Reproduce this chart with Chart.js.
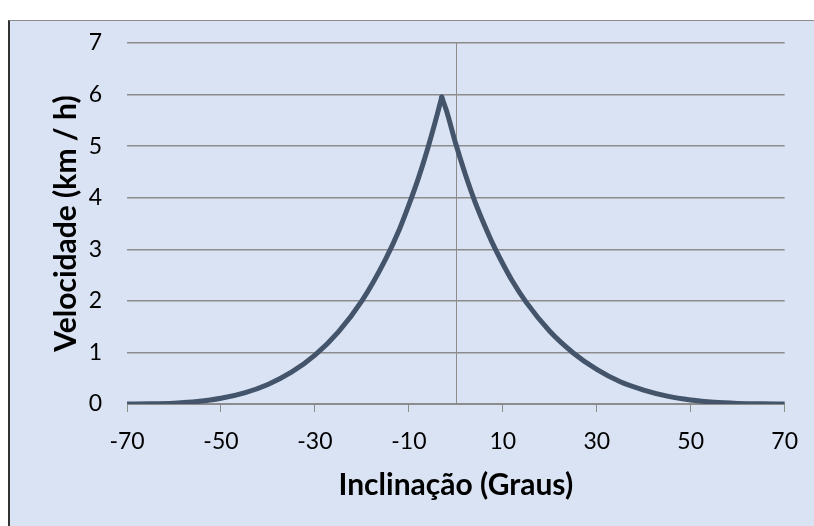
<!DOCTYPE html>
<html>
<head>
<meta charset="utf-8">
<script src="https://cdn.jsdelivr.net/npm/chart.js@4"></script>
<style>
  html, body { margin: 0; padding: 0; background: #ffffff; overflow: hidden; }
  #frame {
    position: absolute; left: 8px; top: 20px;
    width: 820px; height: 520px;
    border: 1px solid #8a8a8a;
    border-left: 2px solid #333333;
    background: #dae3f3;
  }
  #wrap { position: absolute; left: -1px; top: 0; width: 805px; height: 505px; }
</style>
</head>
<body>
<div id="frame"><div id="wrap"><canvas id="chart"></canvas></div></div>
<script>
// inclinação (graus) e velocidade (km/h)
const slopes = [-70, -65, -60, -55, -50, -45, -40, -35, -30, -25, -20, -15, -12, -10, -8, -6, -4, -3, -2, 0, 2, 4, 6, 8, 10, 12, 15, 20, 25, 30, 35, 40, 45, 50, 55, 60, 65, 70];
const speeds = [0.0, 0.004, 0.017, 0.048, 0.11, 0.216, 0.379, 0.616, 0.948, 1.40, 2.00, 2.80, 3.39, 3.86, 4.37, 4.95, 5.60, 5.95, 5.69, 5.04, 4.46, 3.94, 3.49, 3.08, 2.72, 2.39, 1.97, 1.41, 0.99, 0.67, 0.43, 0.27, 0.152, 0.078, 0.034, 0.012, 0.003, 0.0];
const xTicks = [-70, -50, -30, -10, 10, 30, 50, 70];
const yTicks = [0, 1, 2, 3, 4, 5, 6, 7];

const gridColor = '#8c8c8c';
const lineColor = '#44546a';
const fontFamily = 'Lato, "Open Sans", sans-serif';

// curva dividida no pico para manter a ponta aguda
const points = slopes.map((s, i) => ({ x: s, y: speeds[i] }));
const peak = speeds.indexOf(Math.max(...speeds));
const curve = (data) => ({
  data,
  showLine: true,
  borderColor: lineColor,
  borderWidth: 5,
  borderCapStyle: 'round',
  pointRadius: 0,
  cubicInterpolationMode: 'monotone',
  fill: false
});

// linha vertical do eixo em x = 0
const zeroLine = {
  id: 'zeroLine',
  beforeDatasetsDraw(chart) {
    const { ctx, chartArea, scales } = chart;
    const x = Math.round(scales.x.getPixelForValue(0)) + 0.5;
    ctx.save();
    ctx.strokeStyle = gridColor;
    ctx.lineWidth = 1;
    ctx.beginPath();
    ctx.moveTo(x, chartArea.top);
    ctx.lineTo(x, chartArea.bottom);
    ctx.stroke();
    ctx.restore();
  }
};

const ctx = document.getElementById('chart').getContext('2d');
new Chart(ctx, {
  type: 'scatter',
  data: {
    datasets: [curve(points.slice(0, peak + 1)), curve(points.slice(peak))]
  },
  options: {
    responsive: true,
    maintainAspectRatio: false,
    animation: false,
    layout: { padding: { top: 0, right: 29, left: 0, bottom: 0 } },
    plugins: { legend: { display: false }, tooltip: { enabled: false } },
    scales: {
      x: {
        type: 'linear',
        min: -70, max: 70,
        afterBuildTicks: (scale) => { scale.ticks = xTicks.map(v => ({ value: v })); },
        afterFit: (scale) => { scale.height = 122; },
        grid: { drawOnChartArea: false, drawTicks: true, tickLength: 8, color: gridColor },
        border: { display: true, color: gridColor, width: 1 },
        ticks: { color: '#000000', font: { family: fontFamily, size: 23 }, padding: 16, maxRotation: 0, autoSkip: false },
        title: {
          display: true,
          text: 'Inclinação (Graus)',
          color: '#000000',
          font: { family: fontFamily, size: 30, weight: 'bold' },
          padding: { top: 0, bottom: 23 }
        }
      },
      y: {
        min: 0, max: 7,
        afterBuildTicks: (scale) => { scale.ticks = yTicks.map(v => ({ value: v })); },
        afterFit: (scale) => { scale.width = 118; scale.paddingTop = 22; },
        grid: { drawTicks: false, color: gridColor, lineWidth: 1.5 },
        border: { display: false },
        ticks: { color: '#000000', font: { family: fontFamily, size: 23 }, padding: 25 },
        title: {
          display: true,
          text: 'Velocidade (km / h)',
          color: '#000000',
          font: { family: fontFamily, size: 30, weight: 'bold' },
          padding: { top: 39, bottom: 0 }
        }
      }
    }
  },
  plugins: [zeroLine]
});
</script>
</body>
</html>
